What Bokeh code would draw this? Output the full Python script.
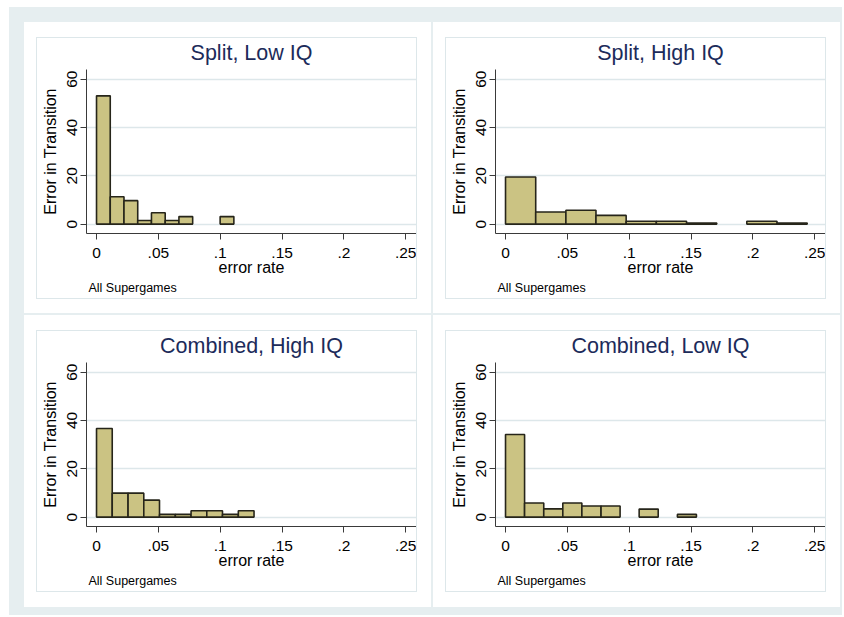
import numpy as np
from bokeh.embed import file_html
from bokeh.layouts import column, row
from bokeh.models import FixedTicker, Spacer, Title
from bokeh.plotting import figure
from bokeh.resources import INLINE

# Panel titles
titles = ["Split, Low IQ", "Split, High IQ", "Combined, High IQ", "Combined, Low IQ"]

# Bin edges (error rate) and bar heights (density)
split_low_edges = [0, 0.0111, 0.0222, 0.0333, 0.0444, 0.0555, 0.0666, 0.0777, 0.0888, 0.0999, 0.111]
split_low_heights = [53.1, 11.3, 9.7, 1.5, 4.7, 1.5, 3.1, 0, 0, 3.1]

split_high_edges = [0, 0.0244, 0.0488, 0.0731, 0.0975, 0.1219, 0.1463, 0.1707, 0.1950, 0.2194, 0.2438]
split_high_heights = [19.5, 5.0, 5.7, 3.6, 1.2, 1.2, 0.4, 0, 1.2, 0.4]

comb_high_edges = [0, 0.0127, 0.0255, 0.0382, 0.0509, 0.0637, 0.0764, 0.0891, 0.1018, 0.1146, 0.1273]
comb_high_heights = [36.7, 9.9, 9.9, 7.0, 1.1, 1.1, 2.6, 2.6, 1.1, 2.6]

comb_low_edges = [0, 0.0154, 0.0309, 0.0463, 0.0617, 0.0772, 0.0926, 0.1080, 0.1234, 0.1389, 0.1543]
comb_low_heights = [34.2, 5.8, 3.4, 5.8, 4.6, 4.6, 0, 3.3, 0, 1.1]

# Axis ticks
x_ticks = [0, 0.05, 0.1, 0.15, 0.2, 0.25]
x_tick_labels = ["0", ".05", ".1", ".15", ".2", ".25"]
y_ticks = [0, 20, 40, 60]

FONT = "Liberation Sans"
BG = "#e6eef0"
LINE = "#dde7ea"
BAR_FILL = "#cbc383"
BAR_LINE = "#26251a"
TITLE_COLOR = "#1c2b5a"
AXIS_COLOR = "#3a3a3a"

LEFT_BORDER = 49
FIG_W, FIG_H = 330 + LEFT_BORDER, 260   # figure inside the thin inner box
PANEL_W = 407
PAD = 15


def make_plot(title, edges, heights):
    p = figure(
        width=FIG_W,
        height=FIG_H,
        min_border_left=LEFT_BORDER,
        min_border_right=0,
        min_border_top=28,
        min_border_bottom=65,
        x_range=(-0.0081, 0.2586),
        y_range=(-3.9, 64),
        output_backend="svg",
        toolbar_location=None,
        background_fill_color="white",
        border_fill_color="white",
        outline_line_color=None,
    )

    # Only non-empty bins are drawn, like Stata does
    edges = np.array(edges)
    heights = np.array(heights)
    keep = heights > 0
    p.quad(
        left=edges[:-1][keep],
        right=edges[1:][keep],
        bottom=0,
        top=heights[keep],
        fill_color=BAR_FILL,
        line_color=BAR_LINE,
        line_width=1.6,
    )

    p.title.text = title
    p.title.align = "center"
    p.title.vertical_align = "top"
    p.title.text_font = FONT
    p.title.text_font_size = "21.5px"
    p.title.text_font_style = "normal"
    p.title.text_color = TITLE_COLOR
    p.title.text_line_height = 1.0
    p.title.standoff = 5

    p.xgrid.grid_line_color = None
    p.ygrid.grid_line_color = LINE
    p.ygrid.grid_line_width = 1.5

    for ax in (p.xaxis[0], p.yaxis[0]):
        ax.axis_line_color = AXIS_COLOR
        ax.major_tick_line_color = AXIS_COLOR
        ax.minor_tick_line_color = None
        ax.major_tick_out = 6
        ax.major_tick_in = 0
        ax.major_label_text_font = FONT
        ax.major_label_text_font_size = "15.5px"
        ax.major_label_text_color = "black"
        ax.axis_label_text_font = FONT
        ax.axis_label_text_font_size = "16px"
        ax.axis_label_text_font_style = "normal"
        ax.axis_label_text_color = "black"

    p.xaxis.ticker = FixedTicker(ticks=x_ticks)
    p.xaxis.major_label_overrides = dict(zip(x_ticks, x_tick_labels))
    p.xaxis.axis_label = "error rate"
    p.xaxis.major_label_standoff = 8
    p.xaxis.axis_label_standoff = -2

    p.yaxis.ticker = FixedTicker(ticks=y_ticks)
    p.ygrid.ticker = FixedTicker(ticks=y_ticks)
    p.yaxis.major_label_orientation = "vertical"
    p.yaxis.axis_label = "Error in Transition"
    p.yaxis.major_label_standoff = 3
    p.yaxis.axis_label_standoff = 6

    note = Title(
        text="All Supergames",
        align="left",
        text_font=FONT,
        text_font_size="12.5px",
        text_font_style="normal",
        text_color="black",
        standoff=1,
        offset=2,
    )
    p.add_layout(note, "below")
    return p


def line(width, height):
    return Spacer(width=width, height=height, styles={"background-color": LINE})


def panel(p, panel_h):
    # white graph region with a thin light inner border around the plot
    boxed = column(
        line(FIG_W + 2, 1),
        row(line(1, FIG_H), p, line(1, FIG_H)),
        line(FIG_W + 2, 1),
    )
    left_pad = PAD - (LEFT_BORDER - 46)
    return column(
        Spacer(width=PANEL_W, height=PAD),
        row(Spacer(width=left_pad, height=FIG_H + 2), boxed,
            Spacer(width=PANEL_W - left_pad - FIG_W - 2, height=FIG_H + 2)),
        Spacer(width=PANEL_W, height=panel_h - PAD - FIG_H - 2),
        styles={"background-color": "white"},
    )


p1 = panel(make_plot(titles[0], split_low_edges, split_low_heights), 291)
p2 = panel(make_plot(titles[1], split_high_edges, split_high_heights), 291)
p3 = panel(make_plot(titles[2], comb_high_edges, comb_high_heights), 292)
p4 = panel(make_plot(titles[3], comb_low_edges, comb_low_heights), 292)

combined = column(
    Spacer(height=15),
    row(Spacer(width=15), p1, Spacer(width=2), p2, Spacer(width=2)),
    Spacer(height=2),
    row(Spacer(width=15), p3, Spacer(width=2), p4, Spacer(width=2)),
    Spacer(height=8),
    styles={"background-color": BG},
)

page = column(Spacer(height=7), row(Spacer(width=9), combined))

open("out.html", "w").write(file_html(page, INLINE))
